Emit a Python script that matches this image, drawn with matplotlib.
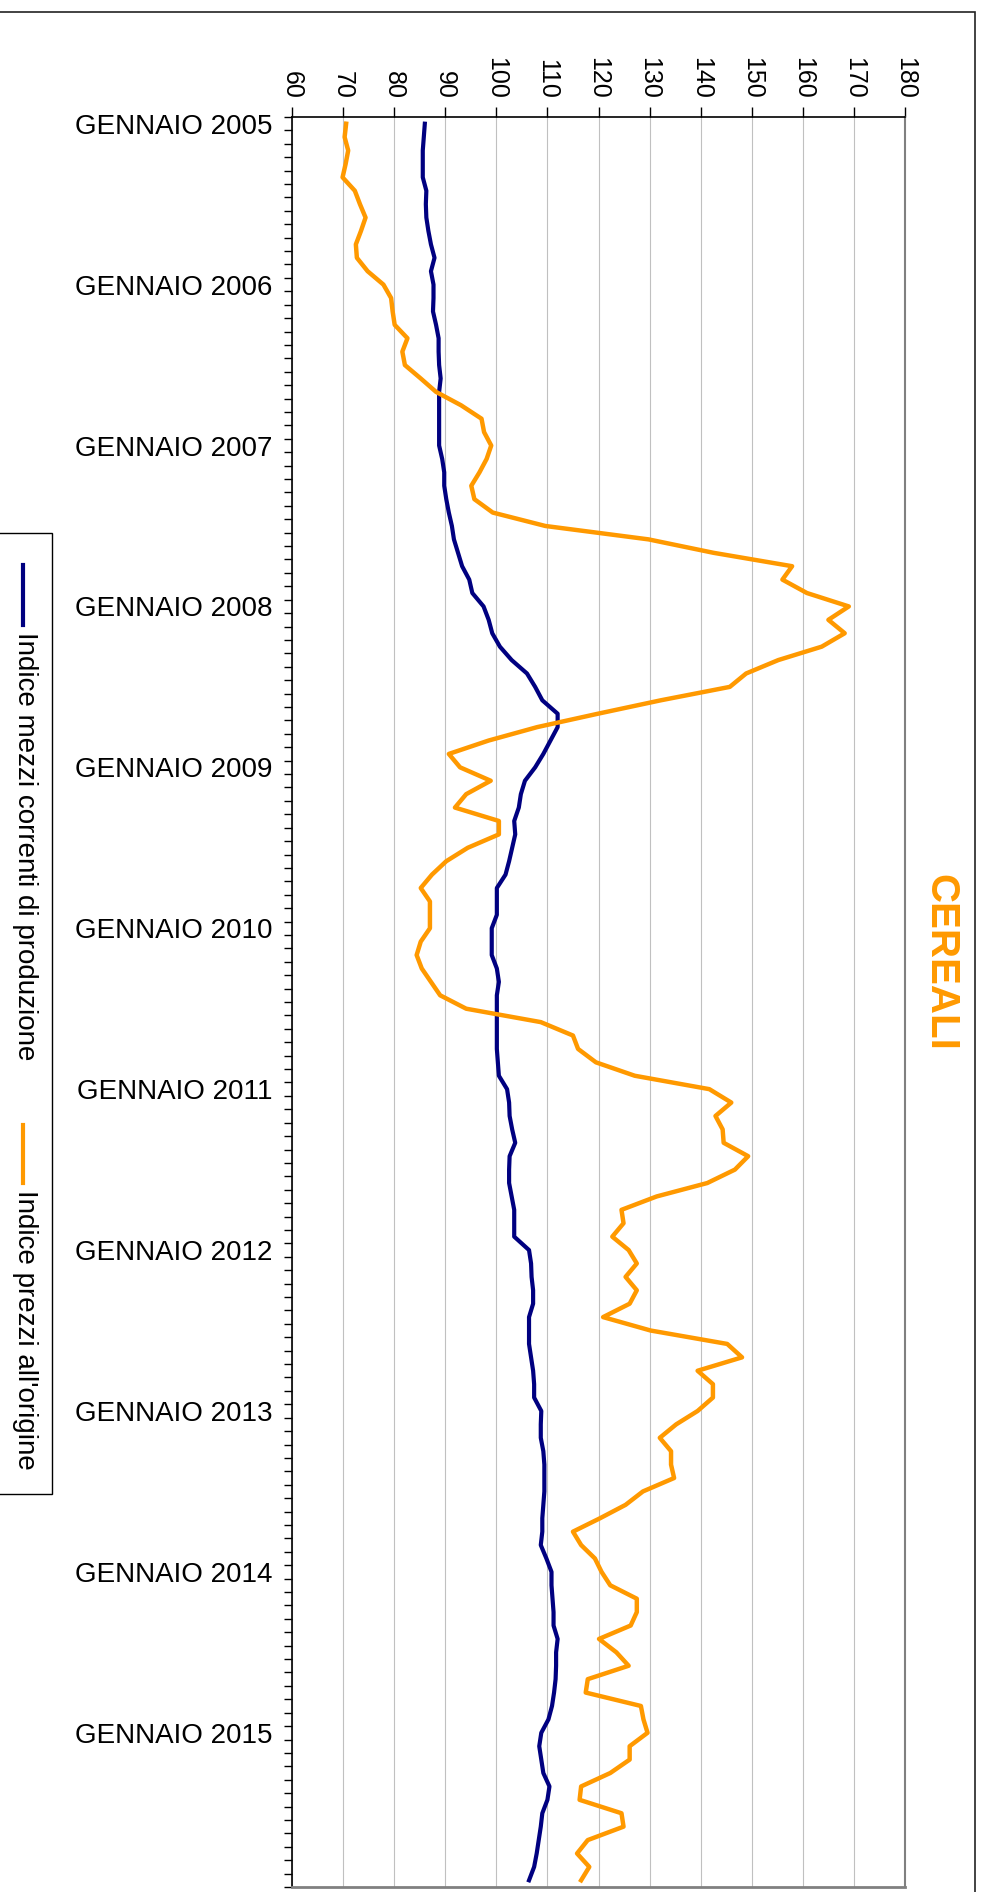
import numpy as np
import matplotlib.pyplot as plt
from matplotlib.lines import Line2D
from matplotlib.patches import Rectangle

plt.rcParams['font.family'] = ['Liberation Sans', 'DejaVu Sans']

# Dati mensili gennaio 2005 - dicembre 2015
anni = list(range(2005, 2016))
etichette = ['GENNAIO %d' % a for a in anni]
valori_asse = list(range(60, 181, 10))

mezzi_correnti = [
    86.0, 85.8, 85.6, 85.6, 85.6, 86.3, 86.2, 86.3, 86.7, 87.2, 87.9, 87.2,
    87.7, 87.7, 87.6, 88.2, 88.7, 88.7, 88.8, 89.1, 88.8, 88.8, 88.8, 88.8,
    88.8, 89.4, 89.8, 89.8, 90.2, 90.7, 91.3, 91.7, 92.5, 93.3, 94.7, 95.3,
    97.5, 98.5, 99.2, 100.7, 103.0, 106.0, 107.6, 109.0, 112.0, 112.0, 110.6, 109.2,
    107.6, 105.6, 104.8, 104.4, 103.5, 103.7, 103.1, 102.5, 101.8, 100.1, 100.1, 100.1,
    99.1, 99.1, 99.1, 100.1, 100.5, 100.1, 100.1, 100.1, 100.1, 100.1, 100.3, 100.5,
    102.1, 102.5, 102.6, 103.1, 103.7, 102.6, 102.5, 102.5, 103.0, 103.5, 103.5, 103.5,
    106.4, 106.8, 106.9, 107.2, 107.2, 106.4, 106.4, 106.4, 106.8, 107.2, 107.4, 107.4,
    108.8, 108.7, 108.7, 109.2, 109.4, 109.4, 109.4, 109.2, 109.0, 109.0, 108.7, 109.8,
    110.8, 110.8, 111.0, 111.2, 111.2, 112.0, 111.7, 111.7, 111.6, 111.3, 110.9, 110.2,
    108.8, 108.4, 108.8, 109.2, 110.4, 110.0, 109.0, 108.7, 108.3, 107.9, 107.4, 106.4,
]

prezzi_origine = [
    70.6, 70.3, 71.0, 70.5, 69.9, 72.3, 73.3, 74.4, 73.5, 72.5, 72.7, 74.8,
    77.9, 79.4, 79.7, 80.1, 82.6, 81.6, 82.1, 85.2, 88.2, 93.1, 97.1, 97.6,
    99.0, 98.1, 96.7, 95.1, 95.7, 99.3, 109.6, 129.8, 142.5, 157.9, 156.0, 160.8,
    169.0, 165.0, 168.2, 163.7, 155.2, 148.9, 145.7, 132.2, 119.9, 108.0, 98.5, 90.7,
    92.9, 98.9, 94.1, 91.9, 100.5, 100.5, 94.4, 90.2, 87.4, 85.2, 87.0, 87.0,
    87.0, 85.2, 84.4, 85.4, 87.2, 89.0, 94.1, 108.7, 115.0, 116.0, 119.5, 127.1,
    141.7, 146.0, 142.9, 144.3, 144.5, 149.3, 146.7, 141.3, 131.4, 124.5, 124.9, 122.7,
    125.9, 127.5, 125.3, 127.5, 126.1, 120.9, 130.2, 145.2, 148.1, 139.4, 142.4, 142.4,
    139.4, 135.2, 132.0, 134.2, 134.2, 134.8, 128.7, 125.3, 120.3, 115.0, 116.6, 119.3,
    120.6, 122.3, 127.5, 127.5, 126.3, 120.1, 123.5, 125.9, 117.9, 117.5, 128.3, 128.8,
    129.6, 126.1, 126.1, 122.3, 116.6, 116.3, 124.5, 124.9, 117.9, 115.8, 118.2, 116.6,
]

serie = ['Indice mezzi correnti di produzione', "Indice prezzi all'origine"]
colori = ['#000080', '#FF9900']

n_mesi = len(mezzi_correnti)
mesi = np.arange(n_mesi)

W, H = 983, 1892
fig = plt.figure(figsize=(W / 100, H / 100), dpi=100)

# grafico ruotato: valori in orizzontale, mesi dall'alto verso il basso
ax = fig.add_axes([292 / W, 1 - 1887 / H, 613 / W, 1770 / H])
ax.plot(mezzi_correnti, mesi, color=colori[0], lw=3.0, zorder=3)
ax.plot(prezzi_origine, mesi, color=colori[1], lw=3.2, zorder=4)

ax.set_xlim(60, 180)
ax.set_ylim(n_mesi - 0.5, -0.5)

ax.xaxis.tick_top()
ax.set_xticks(valori_asse)
ax.set_xticklabels([str(v) for v in valori_asse])
ax.tick_params(axis='x', which='major', direction='out', length=7, width=1,
               pad=6, labelsize=18, labelrotation=270)

ax.set_yticks(mesi[::12])
ax.set_yticklabels(etichette)
ax.set_yticks(np.arange(-0.5, n_mesi, 1), minor=True)
ax.tick_params(axis='y', which='major', length=0, pad=14, labelsize=20)
ax.tick_params(axis='y', which='minor', direction='out', length=6, width=1)

ax.grid(axis='x', color='#C0C0C0', lw=0.8, zorder=0)
ax.spines['top'].set_color('black')
ax.spines['left'].set_color('black')
ax.spines['top'].set_linewidth(1.2)
ax.spines['left'].set_linewidth(1.2)
ax.spines['right'].set_color('#808080')
ax.spines['right'].set_linewidth(1.5)
ax.spines['bottom'].set_color('#808080')
ax.spines['bottom'].set_linewidth(2)

# titolo
fig.text(940 / W, 1 - 962 / H, 'CEREALI', rotation=270, ha='center', va='center',
         fontsize=29, fontweight='bold', color='#FF9900')

# cornice esterna
fig.add_artist(Rectangle((-0.02, -0.02), 975 / W + 0.02, 1 - 12 / H + 0.02,
                         transform=fig.transFigure, fill=False, ec='#222222', lw=1.2))

# legenda disegnata a mano (ruotata)
fig.add_artist(Rectangle((-5 / W, 1 - 1494 / H), 57 / W, (1494 - 533) / H,
                         transform=fig.transFigure, fill=False, ec='black', lw=1))
seg = [(565, 625), (1125, 1183)]
testo_y = [632, 1190]
for s, c, (y0, y1), ty in zip(serie, colori, seg, testo_y):
    fig.add_artist(Line2D([23 / W, 23 / W], [1 - y0 / H, 1 - y1 / H],
                          transform=fig.transFigure, color=c, lw=3))
    fig.text(25 / W, 1 - ty / H, s, rotation=270, ha='center', va='top', fontsize=20)

fig.savefig('out.png', dpi=100)
